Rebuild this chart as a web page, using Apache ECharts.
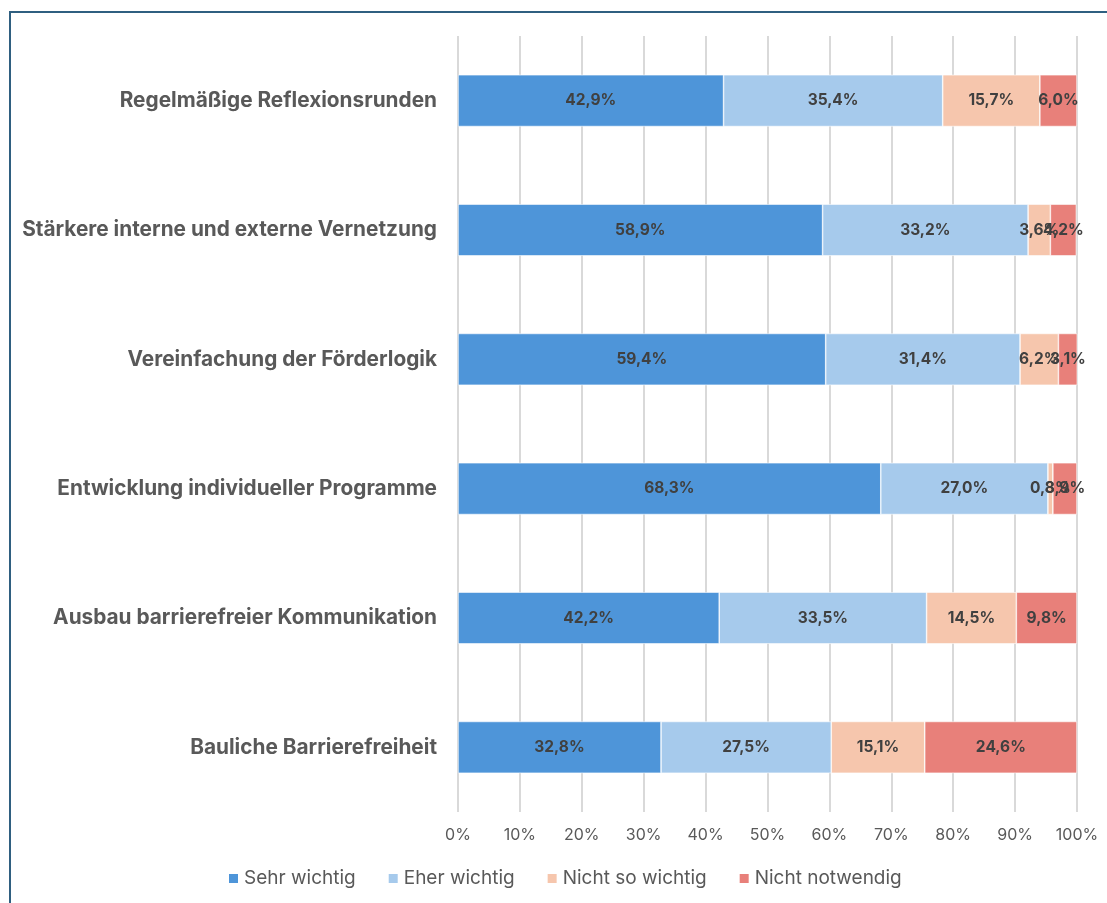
<!DOCTYPE html>
<html>
<head>
<meta charset="utf-8">
<script src="https://cdn.jsdelivr.net/npm/echarts@6/dist/echarts.min.js"></script>
<style>
  html, body { margin: 0; padding: 0; background: #fff; }
  #frame { position: absolute; left: 9px; top: 11px; width: 1120px; height: 920px; border-left: 2px solid #2f5f80; border-top: 2px solid #2f5f80; }
  #main { position: absolute; left: 0; top: 0; width: 1107px; height: 903px; }
</style>
</head>
<body>
<div id="frame"></div>
<div id="main"></div>
<script>
// Kategorien von oben nach unten
var categories = [
  'Regelmäßige Reflexionsrunden',
  'Stärkere interne und externe Vernetzung',
  'Vereinfachung der Förderlogik',
  'Entwicklung individueller Programme',
  'Ausbau barrierefreier Kommunikation',
  'Bauliche Barrierefreiheit'
];
var seriesNames = ['Sehr wichtig', 'Eher wichtig', 'Nicht so wichtig', 'Nicht notwendig'];
var sehrWichtig = [42.9, 58.9, 59.4, 68.3, 42.2, 32.8];
var eherWichtig = [35.4, 33.2, 31.4, 27.0, 33.5, 27.5];
var nichtSoWichtig = [15.7, 3.6, 6.2, 0.8, 14.5, 15.1];
var nichtNotwendig = [6.0, 4.2, 3.1, 3.9, 9.8, 24.6];
var ticks = [0, 10, 20, 30, 40, 50, 60, 70, 80, 90, 100];
var colors = ['#4e95d9', '#a6caec', '#f6c6ad', '#e8807a'];

var chart = echarts.init(document.getElementById('main'));
var allData = [sehrWichtig, eherWichtig, nichtSoWichtig, nichtNotwendig];

var series = [];
for (var i = 0; i < seriesNames.length; i++) {
  series.push({
    name: seriesNames[i],
    type: 'bar',
    stack: 'total',
    barWidth: '40%',
    data: allData[i],
    itemStyle: { color: colors[i], borderColor: '#ffffff', borderWidth: 0.6 },
    label: {
      show: true,
      position: 'inside',
      color: '#404040',
      fontFamily: 'Inter',
      fontWeight: 'bold',
      fontSize: 15.5,
      formatter: function (p) { return p.value.toFixed(1).replace('.', ',') + '%'; }
    }
  });
}

chart.setOption({
  animation: false,
  color: colors,
  grid: { left: 458, right: 30, top: 36, bottom: 91, containLabel: false },
  xAxis: {
    type: 'value',
    min: ticks[0],
    max: ticks[ticks.length - 1],
    interval: 10,
    axisLine: { show: false },
    axisTick: { show: false },
    splitLine: { lineStyle: { color: '#d9d9d9', width: 2 } },
    axisLabel: {
      color: '#595959',
      fontFamily: 'Inter',
      fontSize: 16,
      margin: 15,
      formatter: function (v) { return v + '%'; }
    }
  },
  yAxis: {
    type: 'category',
    inverse: true,
    data: categories,
    axisLine: { show: false },
    axisTick: { show: false },
    axisLabel: {
      color: '#595959',
      fontFamily: 'Inter',
      fontWeight: 'bold',
      fontSize: 20.8,
      margin: 21
    }
  },
  legend: {
    bottom: 10,
    left: 222,
    itemWidth: 11,
    itemHeight: 11,
    itemGap: 31,
    icon: 'rect',
    textStyle: { color: '#595959', fontFamily: 'Inter', fontSize: 19 },
    data: seriesNames
  },
  series: series
});
</script>
</body>
</html>
